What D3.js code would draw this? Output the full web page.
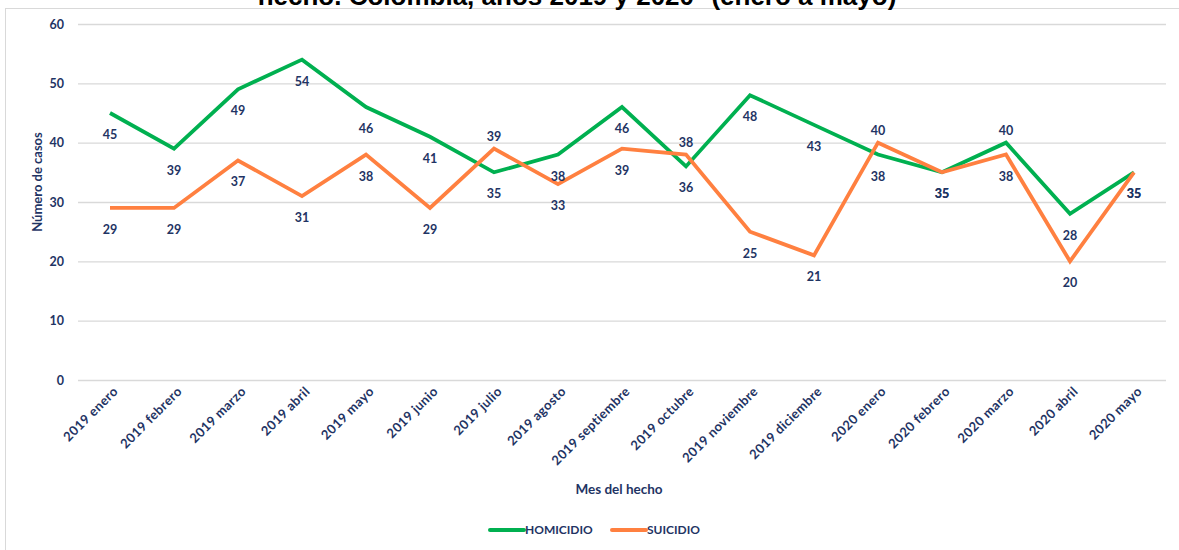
<!DOCTYPE html>
<html>
<head>
<meta charset="utf-8">
<script src="https://cdn.jsdelivr.net/npm/d3@7"></script>
<style>
  html, body { margin: 0; padding: 0; background: #fff; overflow: hidden; }
  svg { display: block; }
</style>
</head>
<body>
<div id="chart"></div>
<script>
// Meses del hecho (eje x)
const meses = [
    "2019 enero", "2019 febrero", "2019 marzo", "2019 abril", "2019 mayo",
    "2019 junio", "2019 julio", "2019 agosto", "2019 septiembre", "2019 octubre",
    "2019 noviembre", "2019 diciembre", "2020 enero", "2020 febrero", "2020 marzo",
    "2020 abril", "2020 mayo"
];

// Número de casos por serie
const homicidio = [45, 39, 49, 54, 46, 41, 35, 38, 46, 36, 48, 43, 38, 35, 40, 28, 35];
const suicidio = [29, 29, 37, 31, 38, 29, 39, 33, 39, 38, 25, 21, 40, 35, 38, 20, 35];

const yTicks = [0, 10, 20, 30, 40, 50, 60];

const series = [
    { name: "HOMICIDIO", values: homicidio, color: "#00B050" },
    { name: "SUICIDIO", values: suicidio, color: "#FF8040" }
];

// indices whose label sits above the point instead of below
const labelsAbove = {
    HOMICIDIO: [14],
    SUICIDIO: [6, 9, 12]
};

const navy = "#1F3464";
const font = "Lato, Calibri, 'Open Sans', sans-serif";

function drawChart() {
    const W = 1179, H = 550;
    const margin = { top: 24, right: 13, bottom: 170, left: 78 };
    const width = W - margin.left - margin.right;
    const height = H - margin.top - margin.bottom;

    const svg = d3.select("#chart").append("svg")
        .attr("width", W)
        .attr("height", H);

    // outer frame
    svg.append("rect")
        .attr("x", 5.5).attr("y", 8.5)
        .attr("width", W).attr("height", H)
        .attr("fill", "none")
        .attr("stroke", "#D9D9D9")
        .attr("stroke-width", 1);

    // title (the reference only shows its lower half)
    svg.append("text")
        .attr("x", 577)
        .attr("y", 5)
        .attr("text-anchor", "middle")
        .style("font-family", "Arial, 'Liberation Sans', sans-serif")
        .style("font-size", "26px")
        .style("font-weight", "bold")
        .style("fill", "#000")
        .text("hecho. Colombia, años 2019 y 2020* (enero a mayo)");

    const g = svg.append("g")
        .attr("transform", `translate(${margin.left},${margin.top})`);

    const x = d3.scalePoint()
        .domain(meses)
        .range([0, width])
        .padding(0.5);

    const y = d3.scaleLinear()
        .domain([0, 60])
        .range([height, 0]);

    // grid
    g.append("g")
        .call(d3.axisLeft(y).tickValues(yTicks).tickSize(-width).tickFormat(""))
        .call(a => a.select(".domain").remove())
        .selectAll("line")
        .attr("stroke", "#D9D9D9")
        .attr("stroke-width", 1.3);

    // y axis labels
    g.append("g")
        .call(d3.axisLeft(y).tickValues(yTicks).tickSize(0).tickPadding(14))
        .call(a => a.select(".domain").remove())
        .selectAll("text")
        .style("font-family", font)
        .style("font-size", "12.5px")
        .style("font-weight", "bold")
        .style("fill", navy);

    // x axis labels
    g.append("g")
        .attr("transform", `translate(0,${height})`)
        .call(d3.axisBottom(x).tickSize(0).tickFormat(d => d))
        .call(a => a.select(".domain").remove())
        .selectAll("text")
        .attr("text-anchor", "end")
        .attr("transform", "translate(5,9) rotate(-45)")
        .attr("dy", "0.35em")
        .attr("y", 0)
        .attr("x", 0)
        .style("font-family", font)
        .style("font-size", "13px")
        .style("letter-spacing", "0.4px")
        .style("font-weight", "bold")
        .style("fill", navy);

    // axis titles
    g.append("text")
        .attr("transform", "rotate(-90)")
        .attr("x", -(y(30) - 20))
        .attr("y", -margin.left + 42)
        .attr("text-anchor", "middle")
        .style("font-family", font)
        .style("font-size", "13px")
        .style("font-weight", "bold")
        .style("fill", navy)
        .text("Número de casos");

    g.append("text")
        .attr("x", x(meses[8]) - 3)
        .attr("y", height + 114)
        .attr("text-anchor", "middle")
        .style("font-family", font)
        .style("font-size", "13.5px")
        .style("font-weight", "bold")
        .style("fill", navy)
        .text("Mes del hecho");

    const line = d3.line()
        .x((d, i) => x(meses[i]))
        .y(d => y(d));

    series.forEach(s => {
        g.append("path")
            .datum(s.values)
            .attr("fill", "none")
            .attr("stroke", s.color)
            .attr("stroke-width", 3.8)
            .attr("stroke-linejoin", "miter")
            .attr("d", line);
    });

    // data labels
    series.forEach(s => {
        g.selectAll(null)
            .data(s.values)
            .enter().append("text")
            .attr("x", (d, i) => x(meses[i]))
            .attr("y", (d, i) => labelsAbove[s.name].includes(i) ? y(d) - 8 : y(d) + 26)
            .attr("text-anchor", "middle")
            .style("font-family", font)
            .style("font-size", "12.5px")
            .style("font-weight", "bold")
            .style("fill", navy)
            .text(d => d);
    });

    // legend
    const legendItems = [
        { s: series[0], x: 490 },
        { s: series[1], x: 612 }
    ];
    const legend = svg.append("g");
    legendItems.forEach(item => {
        legend.append("line")
            .attr("x1", item.x).attr("x2", item.x + 34)
            .attr("y1", 530).attr("y2", 530)
            .attr("stroke", item.s.color)
            .attr("stroke-width", 4)
            .attr("stroke-linecap", "round");
        legend.append("text")
            .attr("x", item.x + 35)
            .attr("y", 530)
            .attr("dy", "0.35em")
            .style("font-family", font)
            .style("font-size", "12px")
            .style("font-weight", "bold")
            .style("fill", navy)
            .text(item.s.name);
    });
}

drawChart();
</script>
</body>
</html>
